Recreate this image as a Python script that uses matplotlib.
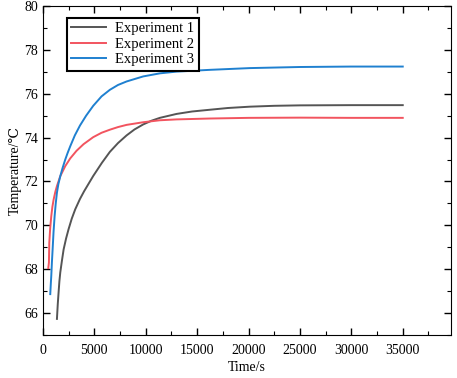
import matplotlib
matplotlib.use("Agg")
import matplotlib.pyplot as plt
from matplotlib.ticker import MultipleLocator

# values
time_1 = [1360, 1440, 1520, 1600, 1685, 1850, 2010, 2250, 2490, 2800, 3140, 3600,
          4000, 4890, 5735, 6510, 7300, 8135, 8900, 9750, 10560, 11370, 13000,
          14500, 16230, 18000, 20120, 22500, 25000, 30000, 35000]
temp_1 = [65.73, 66.4, 66.94, 67.45, 67.85, 68.4, 68.9, 69.4, 69.82, 70.3, 70.73, 71.2,
          71.55, 72.25, 72.85, 73.35, 73.75, 74.1, 74.37, 74.6, 74.77, 74.9, 75.08,
          75.19, 75.27, 75.35, 75.41, 75.45, 75.47, 75.48, 75.48]

time_2 = [520, 580, 615, 700, 810, 920, 1040, 1200, 1360, 1685, 2170, 2650, 3270,
          3950, 4890, 5700, 6510, 7300, 8135, 9750, 11370, 13000, 16230, 20000,
          25000, 30000, 35000]
temp_2 = [68.05, 68.3, 69.2, 69.85, 70.42, 70.85, 71.18, 71.52, 71.79, 72.24, 72.7,
          73.05, 73.4, 73.7, 74.02, 74.22, 74.36, 74.48, 74.58, 74.7, 74.79, 74.83,
          74.87, 74.9, 74.91, 74.9, 74.9]

time_3 = [710, 760, 810, 870, 940, 1030, 1135, 1240, 1360, 1500, 1685, 1900, 2170,
          2400, 2650, 3100, 3600, 4200, 4890, 5700, 6510, 7300, 8135, 9750, 11370,
          13000, 16230, 20120, 25000, 30000, 35000]
temp_3 = [66.86, 67.3, 67.7, 68.3, 68.9, 69.7, 70.42, 70.98, 71.49, 71.88, 72.24,
          72.6, 73.0, 73.3, 73.6, 74.1, 74.55, 75.0, 75.45, 75.88, 76.18, 76.4, 76.56,
          76.79, 76.93, 77.01, 77.09, 77.17, 77.22, 77.24, 77.24]

labels = ["Experiment 1", "Experiment 2", "Experiment 3"]
colors = ["#555555", "#f2545f", "#1f80d0"]

plt.rcParams["font.family"] = ["Liberation Serif", "DejaVu Serif"]
plt.rcParams["font.size"] = 10

fig = plt.figure(figsize=(4.57, 3.78), dpi=100)
ax = fig.add_axes([0.094, 0.114, 0.893, 0.87])

for t, y, lab, c in zip([time_1, time_2, time_3], [temp_1, temp_2, temp_3], labels, colors):
    ax.plot(t, y, color=c, lw=1.4, label=lab)

ax.set_xlim(0, 39700)
ax.set_ylim(65, 80)
ax.xaxis.set_minor_locator(MultipleLocator(2500))
ax.yaxis.set_major_locator(MultipleLocator(2))
ax.yaxis.set_minor_locator(MultipleLocator(1))
ax.set_xticks(range(0, 35001, 5000))
ax.tick_params(which="both", direction="in", top=True, right=True)
ax.tick_params(which="major", length=5, width=1)
ax.tick_params(which="minor", length=3, width=0.8)
ax.tick_params(axis="x", which="major", pad=6.5)

ax.set_xlabel("Time/s", labelpad=3)
ax.set_ylabel("Temperature/\u2103", labelpad=2)

leg = ax.legend(loc="upper left", bbox_to_anchor=(0.059, 0.964), borderaxespad=0,
                fancybox=False, edgecolor="black", framealpha=1, handlelength=2.4,
                borderpad=0.3, labelspacing=0.15, handletextpad=0.6, fontsize=10.5)
leg.get_frame().set_linewidth(1.5)

fig.savefig("out.png", dpi=100)
